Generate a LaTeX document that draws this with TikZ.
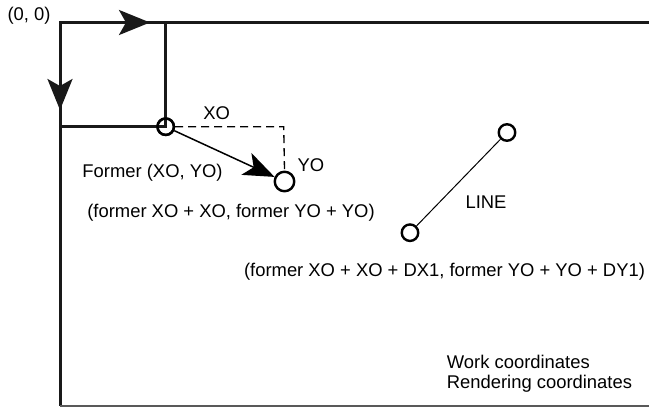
\documentclass[tikz,border=0pt]{standalone}
\usepackage{fontspec}
\setmainfont{Liberation Sans}
\usetikzlibrary{arrows.meta}
\begin{document}
\begin{tikzpicture}[x=1pt,y=-1pt,
  frame/.style={line width=3pt,black!90},
  pt/.style={circle,draw,line width=2.4pt,inner sep=0pt,minimum size=16.5pt},
  bigpt/.style={circle,draw,line width=2.4pt,inner sep=0pt,minimum size=19.5pt,fill=white},
  lbl/.style={inner sep=0pt,font=\fontsize{18.4}{22}\selectfont},
  bigarrow/.style={-{Stealth[length=31pt,width=25pt,inset=7pt]}}]
\useasboundingbox (0,0) rectangle (649,407);
% corner coordinates
\coordinate (o) at (60,22.5);
\coordinate (tr) at (649,22.5);
\coordinate (bl) at (60,406);
\coordinate (br) at (649,406);
\coordinate (ta) at (150,22.5);
\coordinate (la) at (60,110);
\coordinate (rc) at (165.7,22.5);
\coordinate (lb) at (60,126.7);
% points
\node[pt] (c1) at (165.7,126.7) {};
\node[bigpt] (c2) at (284.5,181.5) {};
\node[pt] (l1) at (507,132.5) {};
\node[pt] (l2) at (410,232.7) {};
\coordinate (dc) at (283.7,126.7);
% frame
\draw[frame] (tr) -- (o) -- (bl);
\draw[line width=1.6pt,black!65] (bl) -- (br);
\draw[frame,bigarrow] (o) -- (ta);
\draw[frame,bigarrow] (o) -- (la);
\draw[frame] (rc) -- (c1.center) -- (lb);
\node[pt] at (c1) {};
% offsets
\draw[line width=1.3pt,dash pattern=on 8pt off 5pt] (c1.east) -- (dc) -- (c2.north);
\draw[line width=1.5pt,-{Stealth[length=31pt,width=24pt,inset=8pt]}] (c1) -- (c2);
\draw[line width=1pt] (l2) -- (l1);
% labels
\node[lbl] (t00) at (29,16) {(0, 0)};
\node[lbl] (txo) at (216.7,112.7) {XO};
\node[lbl] (tyo) at (311,165) {YO};
\node[lbl] (tfo) at (152.5,172.5) {Former (XO, YO)};
\node[lbl] (tf2) at (231,213) {(former XO + XO, former YO + YO)};
\node[lbl] (tln) at (486,202) {LINE};
\node[lbl] (tf3) at (444.5,272) {(former XO + XO + DX1, former YO + YO + DY1)};
\node[lbl,anchor=west] (twc) at (446.7,361.5) {Work coordinates};
\node[lbl,anchor=west] (trc) at (446.7,383.5) {Rendering coordinates};
\end{tikzpicture}
\end{document}
